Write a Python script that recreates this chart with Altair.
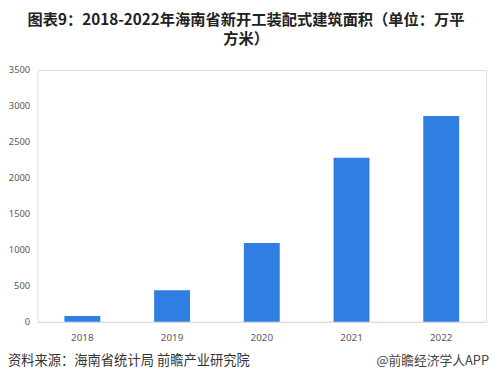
import altair as alt
import pandas as pd

years = ["2018", "2019", "2020", "2021", "2022"]
areas = [82, 440, 1095, 2280, 2860]
title_lines = ["图表9：2018-2022年海南省新开工装配式建筑面积（单位：万平", "方米）"]
source_text = "资料来源：海南省统计局 前瞻产业研究院"
brand_text = "@前瞻经济学人APP"

df = pd.DataFrame({"year": years, "area": areas})

W, H = 456, 256

bars = alt.Chart(df).mark_bar(color="#2F7FE3").encode(
    x=alt.X("year:N", sort=years, title=None,
            scale=alt.Scale(paddingInner=0.6, paddingOuter=0.3),
            axis=alt.Axis(labelAngle=0, labelFontSize=10, labelColor="#595959",
                          labelFont="Noto Sans", ticks=False, domainColor="#D9D9D9",
                          domainWidth=1, labelPadding=11)),
    y=alt.Y("area:Q", title=None,
            scale=alt.Scale(domain=[0, 3500], nice=False),
            axis=alt.Axis(values=list(range(0, 3501, 500)), format="d", grid=False,
                          domain=False, ticks=False, labelFontSize=9.5,
                          labelColor="#595959", labelFont="Noto Sans",
                          labelPadding=8)),
)

foot_df = pd.DataFrame({"t": [source_text]})
brand_df = pd.DataFrame({"t": [brand_text]})

foot = alt.Chart(foot_df).mark_text(
    align="left", baseline="middle", fontSize=13.5, color="#333333",
    font="Noto Sans CJK SC"
).encode(text="t:N", x=alt.value(-30), y=alt.value(H + 40))

brand = alt.Chart(brand_df).mark_text(
    align="right", baseline="middle", fontSize=13, color="#444444",
    font="Noto Sans CJK SC"
).encode(text="t:N", x=alt.value(W + 3), y=alt.value(H + 40))

chart = alt.layer(bars, foot, brand).properties(
    width=W, height=H,
    title=alt.TitleParams(title_lines, fontSize=15.5, fontWeight="bold",
                          font="Noto Sans CJK SC", color="#222222",
                          anchor="middle", dx=-16, offset=18, lineHeight=19),
    autosize=alt.AutoSizeParams(type="none"),
    padding={"left": 30, "top": 60, "right": 5, "bottom": 53},
).configure_view(stroke=None).configure(background="white")

chart.save("out.html", embed_options={"renderer": "svg", "actions": False})
